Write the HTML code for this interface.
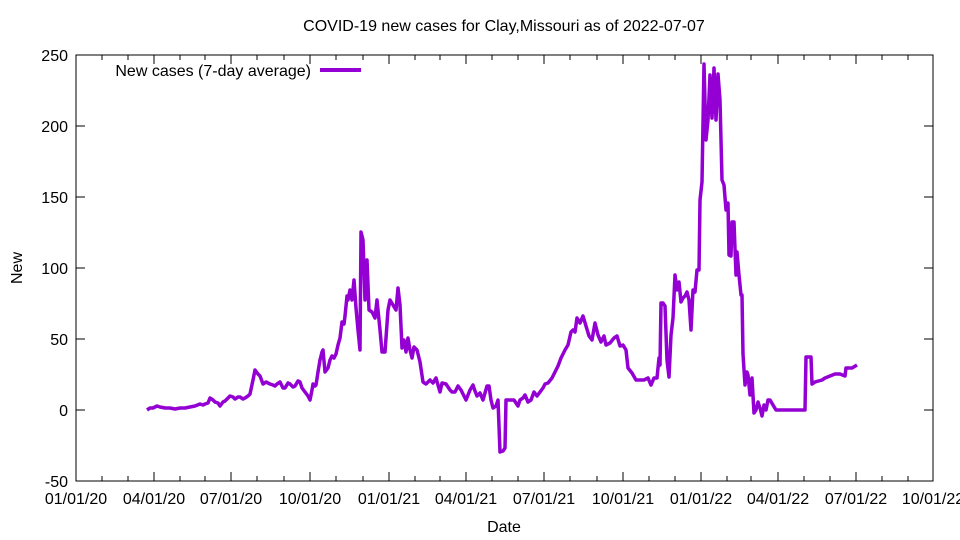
<!DOCTYPE html>
<html><head><style>body{margin:0;background:#fff}svg{display:block}text{font-family:"Liberation Sans",sans-serif;font-size:16px;fill:#000}</style></head><body>
<svg width="960" height="540" viewBox="0 0 960 540">
<rect width="960" height="540" fill="#fff"/>
<text x="504" y="31" text-anchor="middle">COVID-19 new cases for Clay,Missouri as of 2022-07-07</text>
<g stroke="#000" stroke-width="1" fill="none">
<rect x="76" y="55" width="857" height="426"/>
<path d="M76 55h9M76 126h9M76 197h9M76 268h9M76 339h9M76 410h9M76 481h9M933 55h-9M933 126h-9M933 197h-9M933 268h-9M933 339h-9M933 410h-9M933 481h-9"/>
</g>
<g stroke="#000" stroke-width="1">
<path d="M76 481v-9M154 481v-9M231 481v-9M310 481v-9M389 481v-9M466 481v-9M544 481v-9M623 481v-9M701 481v-9M778 481v-9M856 481v-9M933 481v-9M76 55v9M154 55v9M231 55v9M310 55v9M389 55v9M466 55v9M544 55v9M623 55v9M701 55v9M778 55v9M856 55v9M933 55v9"/>
<path d="M102 481v-5M128 481v-5M180 481v-5M205 481v-5M257 481v-5M284 481v-5M336 481v-5M363 481v-5M415 481v-5M440 481v-5M492 481v-5M518 481v-5M570 481v-5M597 481v-5M649 481v-5M675 481v-5M727 481v-5M751 481v-5M804 481v-5M830 481v-5M882 481v-5M908 481v-5M102 55v5M128 55v5M180 55v5M205 55v5M257 55v5M284 55v5M336 55v5M363 55v5M415 55v5M440 55v5M492 55v5M518 55v5M570 55v5M597 55v5M649 55v5M675 55v5M727 55v5M751 55v5M804 55v5M830 55v5M882 55v5M908 55v5"/>
</g>
<g text-anchor="end">
<text x="68" y="61">250</text><text x="68" y="132">200</text><text x="68" y="203">150</text><text x="68" y="274">100</text><text x="68" y="345">50</text><text x="68" y="416">0</text><text x="68" y="487">-50</text>
</g>
<g text-anchor="middle">
<text x="76" y="504">01/01/20</text><text x="154" y="504">04/01/20</text><text x="231" y="504">07/01/20</text><text x="310" y="504">10/01/20</text><text x="389" y="504">01/01/21</text><text x="466" y="504">04/01/21</text><text x="544" y="504">07/01/21</text><text x="623" y="504">10/01/21</text><text x="701" y="504">01/01/22</text><text x="778" y="504">04/01/22</text><text x="856" y="504">07/01/22</text><text x="933" y="504">10/01/22</text>
<text x="504" y="532">Date</text>
<text transform="translate(22 268) rotate(-90)">New</text>
</g>
<text x="311" y="76" text-anchor="end">New cases (7-day average)</text>
<path d="M320 70H361" stroke="#9400d3" stroke-width="4"/>
<polyline fill="none" stroke="#9400d3" stroke-width="3.5" stroke-linejoin="round" points="147,410 150,408 153,408 157,406 160,407 165,408 170,408 175,409 180,408 185,408 190,407 195,406 200,404 203,405 205,404 208,403 210,398 213,400 215,402 218,403 220,406 223,402 225,401 228,398 230,396 233,397 235,399 238,397 240,397 243,399 245,398 248,396 250,394 253,380 255,370 258,374 260,376 263,384 266,382 270,384 273,385 275,386 277,384 280,382 283,388 285,388 288,383 290,384 293,387 295,386 298,381 300,382 302,388 305,392 308,396 310,400 312,390 313,384 315,386 316,385 318,372 320,360 322,352 323,350 325,372 328,368 330,360 332,356 334,358 336,354 338,345 340,338 342,322 344,324 345,316 346,306 347,296 348,300 350,290 352,300 354,280 356,308 358,330 360,350 361,232 363,240 365,300 367,260 369,310 372,312 375,318 377,300 379,320 380,330 382,352 385,352 388,310 390,300 393,305 396,310 398,288 400,305 402,348 404,340 406,352 408,338 410,350 412,358 414,347 417,350 420,362 423,382 426,384 430,380 433,383 436,378 438,385 440,392 442,383 446,384 450,390 452,392 455,392 458,386 461,390 464,396 466,400 470,390 473,385 475,391 477,396 480,393 483,400 487,386 489,386 491,400 493,408 496,406 498,400 500,452 503,451 505,448 506,400 510,400 514,400 518,406 520,400 523,398 525,395 528,402 531,400 534,392 537,396 540,392 543,388 545,384 548,383 552,378 556,370 558,366 561,358 565,350 568,345 571,332 573,330 575,332 577,318 580,323 583,316 586,326 589,336 592,340 595,323 598,335 601,342 604,336 606,345 610,343 614,338 617,336 620,346 623,345 626,350 628,368 632,373 636,380 640,380 644,380 648,378 651,385 654,378 657,378 659,358 660,365 661,303 663,303 665,306 667,360 669,377 671,335 673,318 675,275 677,290 679,282 681,302 683,298 685,296 687,292 689,300 691,330 693,290 695,292 697,270 699,270 700,200 702,182 704,64 706,140 708,120 710,75 712,118 714,68 716,120 718,74 720,100 722,180 724,185 726,210 728,203 729,255 731,256 732,222 734,222 736,275 737,252 739,275 741,295 742,295 743,354 745,385 747,372 748,375 750,395 752,378 754,413 756,410 758,402 760,408 762,416 764,405 766,410 768,400 770,400 773,405 776,410 805,410 806,357 811,357 812,384 815,382 822,380 825,378 835,374 840,374 845,376 846,368 852,368 857,365"/>
</svg>
</body></html>
